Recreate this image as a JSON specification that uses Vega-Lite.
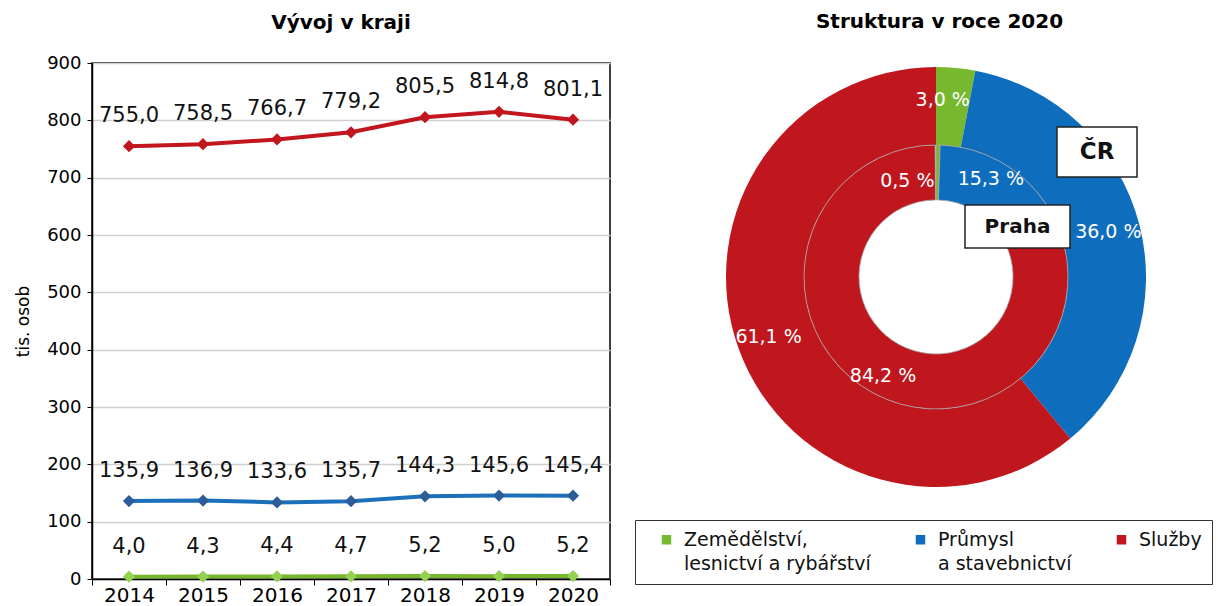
{
  "$schema": "https://vega.github.io/schema/vega-lite/v6.json",
  "padding": {"left": 13, "top": 12, "right": 0, "bottom": 0},
  "spacing": 22,
  "resolve": {"scale": {"color": "independent", "x": "independent", "y": "independent", "theta": "independent"}},
  "config": {
    "font": "DejaVu Sans",
    "locale": {"number": {"decimal": ",", "thousands": " ", "grouping": [3], "currency": ["", " Kč"]}},
    "title": {"fontSize": 20, "fontWeight": "bold", "font": "DejaVu Sans", "color": "#000"},
    "axis": {"labelFont": "DejaVu Sans", "titleFont": "DejaVu Sans", "labelColor": "#000", "titleColor": "#000"},
    "style": {"guide-label": {"lineHeight": 24}}
  },
  "hconcat": [
    {
      "width": 518,
      "height": 516,
      "title": {"text": "Vývoj v kraji", "offset": 21, "dx": -10},
      "view": {"stroke": "#000", "strokeWidth": 1.5},
      "data": {"values": [
        {"rok": "2014", "serie": "Zemědělství", "hodnota": 4.0},
        {"rok": "2015", "serie": "Zemědělství", "hodnota": 4.3},
        {"rok": "2016", "serie": "Zemědělství", "hodnota": 4.4},
        {"rok": "2017", "serie": "Zemědělství", "hodnota": 4.7},
        {"rok": "2018", "serie": "Zemědělství", "hodnota": 5.2},
        {"rok": "2019", "serie": "Zemědělství", "hodnota": 5.0},
        {"rok": "2020", "serie": "Zemědělství", "hodnota": 5.2},
        {"rok": "2014", "serie": "Průmysl", "hodnota": 135.9},
        {"rok": "2015", "serie": "Průmysl", "hodnota": 136.9},
        {"rok": "2016", "serie": "Průmysl", "hodnota": 133.6},
        {"rok": "2017", "serie": "Průmysl", "hodnota": 135.7},
        {"rok": "2018", "serie": "Průmysl", "hodnota": 144.3},
        {"rok": "2019", "serie": "Průmysl", "hodnota": 145.6},
        {"rok": "2020", "serie": "Průmysl", "hodnota": 145.4},
        {"rok": "2014", "serie": "Služby", "hodnota": 755.0},
        {"rok": "2015", "serie": "Služby", "hodnota": 758.5},
        {"rok": "2016", "serie": "Služby", "hodnota": 766.7},
        {"rok": "2017", "serie": "Služby", "hodnota": 779.2},
        {"rok": "2018", "serie": "Služby", "hodnota": 805.5},
        {"rok": "2019", "serie": "Služby", "hodnota": 814.8},
        {"rok": "2020", "serie": "Služby", "hodnota": 801.1}
      ]},
      "encoding": {
        "x": {"field": "rok", "type": "ordinal",
          "scale": {"type": "band", "paddingInner": 0, "paddingOuter": 0},
          "axis": {"title": null, "labelAngle": 0, "labelFontSize": 20, "tickBand": "extent", "domainColor": "#000", "domainWidth": 1.5, "tickColor": "#000", "tickSize": 6, "labelPadding": 0, "grid": false}},
        "y": {"field": "hodnota", "type": "quantitative",
          "scale": {"domain": [0, 900], "nice": false},
          "axis": {"title": "tis. osob", "titleFontSize": 17, "titleFontWeight": "normal", "titlePadding": 14, "values": [0,100,200,300,400,500,600,700,800,900], "labelFontSize": 18, "labelPadding": 6, "tickSize": 5, "tickColor": "#000", "domainColor": "#000", "domainWidth": 1.5, "gridColor": "#cfcfcf", "gridWidth": 1.5}}
      },
      "layer": [
        {
          "mark": {"type": "line", "strokeWidth": 4},
          "encoding": {
            "color": {"field": "serie", "type": "nominal",
              "scale": {"domain": ["Zemědělství", "Průmysl", "Služby"], "range": ["#76b52c", "#1c70b9", "#c2151e"]},
              "legend": null}
          }
        },
        {
          "mark": {"type": "point", "shape": "diamond", "filled": true, "size": 150, "opacity": 1},
          "encoding": {
            "fill": {"field": "serie", "type": "nominal",
              "scale": {"domain": ["Zemědělství", "Průmysl", "Služby"], "range": ["#93d150", "#2d5c98", "#c2151e"]},
              "legend": null}
          }
        },
        {
          "mark": {"type": "text", "dy": -30, "fontSize": 21, "color": "#111"},
          "encoding": {"text": {"field": "hodnota", "type": "quantitative", "format": ".1f"}}
        }
      ]
    },
    {
      "width": 583,
      "height": 522,
      "title": {"text": "Struktura v roce 2020", "offset": 31, "dx": 10},
      "view": {"stroke": null},
      "data": {"values": [
        {"oblast": "ČR", "sektor": "Zemědělství, lesnictví a rybářství", "k": 1, "podil": 3.0, "popisek": "3,0 %"},
        {"oblast": "ČR", "sektor": "Průmysl a stavebnictví", "k": 2, "podil": 36.0, "popisek": "36,0 %"},
        {"oblast": "ČR", "sektor": "Služby", "k": 3, "podil": 61.1, "popisek": "61,1 %"},
        {"oblast": "Praha", "sektor": "Zemědělství, lesnictví a rybářství", "k": 1, "podil": 0.5, "popisek": "0,5 %"},
        {"oblast": "Praha", "sektor": "Průmysl a stavebnictví", "k": 2, "podil": 15.3, "popisek": "15,3 %"},
        {"oblast": "Praha", "sektor": "Služby", "k": 3, "podil": 84.2, "popisek": "84,2 %"}
      ]},
      "encoding": {
        "x": {"datum": 0, "type": "quantitative", "scale": {"domain": [-1.419, 1.357], "nice": false, "zero": false}, "axis": null},
        "y": {"datum": 0, "type": "quantitative", "scale": {"domain": [-1.467, 1.019], "nice": false, "zero": false}, "axis": null}
      },
      "layer": [
        {
          "transform": [{"filter": "datum.oblast === 'ČR'"}],
          "mark": {"type": "arc", "outerRadius": 210, "innerRadius": 132},
          "encoding": {
            "theta": {"field": "podil", "type": "quantitative", "stack": true, "scale": {"domain": [0, 100.1]}},
            "order": {"field": "k", "type": "quantitative"},
            "color": {"field": "sektor", "type": "nominal",
              "scale": {"domain": ["Zemědělství, lesnictví a rybářství", "Průmysl a stavebnictví", "Služby"], "range": ["#77b82e", "#0f6dbd", "#c0171f"]},
              "legend": {"title": " ", "titleOrient": "left", "titlePadding": 12, "orient": "none", "legendX": -3, "legendY": 457, "direction": "horizontal", "columns": 3,
                "strokeColor": "#333", "padding": 10, "symbolType": "square", "symbolSize": 90, "symbolStrokeWidth": 0,
                "labelFont": "DejaVu Sans", "labelFontSize": 19, "labelColor": "#111", "labelLimit": 400, "labelBaseline": "middle", "labelOffset": 8, "columnPadding": 40,
                "labelExpr": "datum.label === 'Zemědělství, lesnictví a rybářství' ? ['Zemědělství,', 'lesnictví a rybářství'] : (datum.label === 'Průmysl a stavebnictví' ? ['Průmysl', 'a stavebnictví'] : [datum.label, ''])"}
            }
          }
        },
        {
          "transform": [{"filter": "datum.oblast === 'Praha'"}],
          "mark": {"type": "arc", "outerRadius": 132, "innerRadius": 77, "stroke": "#a8a8a8", "strokeWidth": 0.8},
          "encoding": {
            "theta": {"field": "podil", "type": "quantitative", "stack": true},
            "order": {"field": "k", "type": "quantitative"},
            "color": {"field": "sektor", "type": "nominal"}
          }
        },
        {
          "transform": [{"filter": "datum.oblast === 'ČR'"}],
          "mark": {"type": "text", "radius": 178, "fontSize": 19, "color": "#fff"},
          "encoding": {
            "theta": {"field": "podil", "type": "quantitative", "stack": true},
            "order": {"field": "k", "type": "quantitative"},
            "text": {"condition": {"test": "datum.k !== 1", "field": "popisek"}, "value": ""}
          }
        },
        {
          "transform": [{"filter": "datum.oblast === 'ČR'"}],
          "mark": {"type": "text", "radius": 178, "fontSize": 19, "color": "#fff", "dx": -10},
          "encoding": {
            "theta": {"field": "podil", "type": "quantitative", "stack": true},
            "order": {"field": "k", "type": "quantitative"},
            "text": {"condition": {"test": "datum.k === 1", "field": "popisek"}, "value": ""}
          }
        },
        {
          "transform": [{"filter": "datum.oblast === 'Praha'"}],
          "mark": {"type": "text", "radius": 112, "fontSize": 19, "color": "#fff"},
          "encoding": {
            "theta": {"field": "podil", "type": "quantitative", "stack": true},
            "order": {"field": "k", "type": "quantitative"},
            "text": {"condition": {"test": "datum.k !== 1", "field": "popisek"}, "value": ""}
          }
        },
        {
          "transform": [{"filter": "datum.oblast === 'Praha'"}],
          "mark": {"type": "text", "radius": 96, "fontSize": 19, "color": "#fff", "align": "right", "dx": -3},
          "encoding": {
            "theta": {"field": "podil", "type": "quantitative", "stack": true},
            "order": {"field": "k", "type": "quantitative"},
            "text": {"condition": {"test": "datum.k === 1", "field": "popisek"}, "value": ""}
          }
        },
        {
          "data": {"values": [{"nazev": "ČR"}]},
          "mark": {"type": "rect", "fill": "#fff", "stroke": "#222", "strokeWidth": 1.5},
          "encoding": {
            "x": {"datum": 0.576, "type": "quantitative"},
            "x2": {"datum": 0.957},
            "y": {"datum": 0.714, "type": "quantitative"},
            "y2": {"datum": 0.476}
          }
        },
        {
          "data": {"values": [{"nazev": "ČR"}]},
          "mark": {"type": "text", "fontSize": 23, "fontWeight": "bold", "color": "#111"},
          "encoding": {
            "x": {"datum": 0.767, "type": "quantitative"},
            "y": {"datum": 0.595, "type": "quantitative"},
            "text": {"field": "nazev"}
          }
        },
        {
          "data": {"values": [{"nazev": "Praha"}]},
          "mark": {"type": "rect", "fill": "#fff", "stroke": "#222", "strokeWidth": 1.5},
          "encoding": {
            "x": {"datum": 0.138, "type": "quantitative"},
            "x2": {"datum": 0.638},
            "y": {"datum": 0.343, "type": "quantitative"},
            "y2": {"datum": 0.138}
          }
        },
        {
          "data": {"values": [{"nazev": "Praha"}]},
          "mark": {"type": "text", "fontSize": 20, "fontWeight": "bold", "color": "#111"},
          "encoding": {
            "x": {"datum": 0.388, "type": "quantitative"},
            "y": {"datum": 0.24, "type": "quantitative"},
            "text": {"field": "nazev"}
          }
        }
      ]
    }
  ]
}
